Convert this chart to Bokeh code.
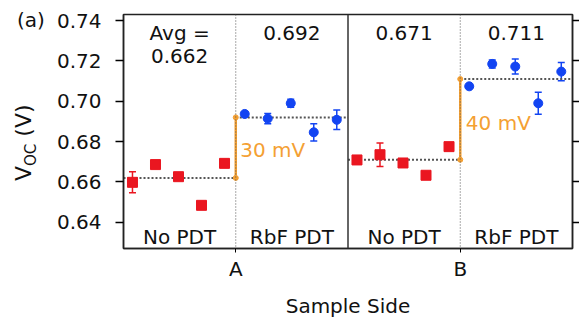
from bokeh.plotting import figure
from bokeh.layouts import row
from bokeh.models import (Range1d, LinearAxis, FixedTicker, Whisker, ColumnDataSource,
                          Span, NumeralTickFormatter, TeeHead, Div)
from bokeh.core.properties import value
from bokeh.embed import file_html
from bokeh.resources import INLINE

# ---------------- data ----------------
sides = ["A", "B"]
side_ticks = [1, 3]
treatments = ["No PDT", "RbF PDT", "No PDT", "RbF PDT"]
sample_offsets = [0.08, 0.285, 0.49, 0.695, 0.9]

voc_A_no = [0.6598, 0.6686, 0.6626, 0.6484, 0.6692]
err_A_no = [0.0052, 0.0008, 0.0008, 0.0008, 0.0008]
voc_A_rbf = [0.6937, 0.6914, 0.6990, 0.6846, 0.6908]
err_A_rbf = [0.0010, 0.0025, 0.0020, 0.0043, 0.0048]
voc_B_no = [0.6709, 0.6735, 0.6694, 0.6633, 0.6775]
err_B_no = [0.0010, 0.0058, 0.0010, 0.0010, 0.0010]
voc_B_rbf = [0.7074, 0.7185, 0.7172, 0.6990, 0.7147]
err_B_rbf = [0.0010, 0.0020, 0.0037, 0.0054, 0.0045]

avg_voc = [0.662, 0.692, 0.671, 0.711]
y_ticks = [0.64, 0.66, 0.68, 0.70, 0.72, 0.74]

RED = "#EA1620"
BLUE = "#1244F2"
ORANGE = "#F4A033"
FONT = "DejaVu Sans"

p = figure(width=526, height=320, output_backend="svg", toolbar_location=None,
           x_range=Range1d(0, 4), y_range=Range1d(0.627, 0.743),
           min_border_left=70, min_border_right=7, min_border_top=14, min_border_bottom=72,
           margin=0)
p.xgrid.visible = False
p.ygrid.visible = False
p.outline_line_color = "#222222"
p.outline_line_width = 1.5
p.background_fill_color = "white"
p.border_fill_color = "white"

# axes
ya = p.yaxis[0]
ya.ticker = FixedTicker(ticks=y_ticks)
ya.formatter = NumeralTickFormatter(format="0.00")
ya.major_tick_out = 8
ya.major_tick_in = 0
ya.minor_tick_line_color = None
ya.major_label_standoff = 14
ya.major_label_text_font = FONT
ya.major_label_text_font_size = "20px"
ya.major_label_text_color = "#111111"
ya.axis_line_color = "#222222"
ya.axis_line_width = 1.5
ya.major_tick_line_width = 1.5

ra = LinearAxis(ticker=FixedTicker(ticks=y_ticks))
ra.major_tick_out = 7
ra.major_tick_in = 0
ra.minor_tick_line_color = None
ra.major_label_text_font_size = "0px"
ra.major_label_standoff = 0
ra.axis_line_color = "#222222"
ra.axis_line_width = 1.5
ra.major_tick_line_width = 1.5
p.add_layout(ra, "right")

xa = p.xaxis[0]
xa.ticker = FixedTicker(ticks=side_ticks)
xa.major_label_overrides = {t: s for t, s in zip(side_ticks, sides)}
xa.major_tick_out = 4
xa.major_tick_in = 0
xa.minor_tick_line_color = None
xa.major_label_standoff = 4
xa.major_label_text_font = FONT
xa.major_label_text_font_size = "20px"
xa.major_label_text_color = "#111111"
xa.axis_line_color = "#222222"
xa.axis_line_width = 1.5
xa.axis_label = "Sample Side"
xa.axis_label_text_font = FONT
xa.axis_label_text_font_size = "20px"
xa.axis_label_text_font_style = "normal"
xa.axis_label_text_color = "#111111"
xa.axis_label_standoff = 10

# dividers
p.add_layout(Span(location=1, dimension="height", line_color="#555555", line_width=1, line_dash="1 2"))
p.add_layout(Span(location=3, dimension="height", line_color="#555555", line_width=1, line_dash="1 2"))
p.add_layout(Span(location=2, dimension="height", line_color="#333333", line_width=1.5))

# average dotted lines
p.segment(x0=[0, 1, 2, 3], x1=[1, 2, 3, 4], y0=avg_voc, y1=avg_voc,
          line_color="#555555", line_width=2, line_dash="2 2")

# orange difference bars
p.segment(x0=[1, 3], x1=[1, 3], y0=[avg_voc[0], avg_voc[2]], y1=[avg_voc[1], avg_voc[3]],
          line_color=ORANGE, line_width=2.5)
p.scatter(x=[1, 1, 3, 3], y=avg_voc, size=5, color=ORANGE)

# data points
groups = [(voc_A_no, err_A_no, RED, "square", 10),
          (voc_A_rbf, err_A_rbf, BLUE, "circle", 9),
          (voc_B_no, err_B_no, RED, "square", 10),
          (voc_B_rbf, err_B_rbf, BLUE, "circle", 9)]
for g, (vals, errs, col, mk, sz) in enumerate(groups):
    xs = [g + o for o in sample_offsets]
    src = ColumnDataSource(dict(x=xs, y=vals,
                                lo=[v - e for v, e in zip(vals, errs)],
                                hi=[v + e for v, e in zip(vals, errs)]))
    w = Whisker(base="x", lower="lo", upper="hi", source=src, line_color=col, line_width=1.5,
                upper_head=TeeHead(size=7, line_color=col, line_width=1.5),
                lower_head=TeeHead(size=7, line_color=col, line_width=1.5))
    p.add_layout(w)
    p.scatter(x="x", y="y", source=src, marker=mk, size=sz, color=col)

# header values
hdr = [f"{a:.3f}" for a in avg_voc]
p.text(x=[g + 0.5 for g in range(1, 4)], y=[0.734] * 3, text=hdr[1:],
       text_font=value(FONT), text_font_size="20px", text_align="center",
       text_baseline="middle", text_color="#111111")
p.text(x=[0.5, 0.5], y=[0.734, 0.7226], text=["Avg =", hdr[0]],
       text_font=value(FONT), text_font_size="20px", text_align="center",
       text_baseline="middle", text_color="#111111")

# treatment labels
p.text(x=[g + 0.5 for g in range(4)], y=[0.6325] * 4, text=treatments,
       text_font=value(FONT), text_font_size="20px", text_align="center",
       text_baseline="middle", text_color="#111111")

# mV labels
dv = [round((avg_voc[1] - avg_voc[0]) * 1000), round((avg_voc[3] - avg_voc[2]) * 1000)]
p.text(x=[1.04, 3.05], y=[(avg_voc[0] + avg_voc[1]) / 2 - 0.001, (avg_voc[2] + avg_voc[3]) / 2 - 0.002],
       text=[f"{d} mV" for d in dv],
       text_font=value(FONT), text_font_size="20px", text_align="left",
       text_baseline="middle", text_color=ORANGE)

# panel tag and y-axis label with subscript, in a narrow side panel
side_html = (
    "<div style=\"position:relative;width:53px;height:320px;font-family:'DejaVu Sans';color:#111111;\">"
    "<span style=\"position:absolute;left:17px;top:8px;font-size:20px;line-height:24px;white-space:nowrap;\">(a)</span>"
    "<span style=\"position:absolute;left:12px;top:181px;transform:rotate(-90deg);transform-origin:0 0;"
    "font-size:22px;line-height:24px;white-space:nowrap;\">V<sub style=\"font-size:15px;\">OC</sub> (V)</span>"
    "</div>"
)
side = Div(text=side_html, width=53, height=320, margin=0)

layout = row(side, p, spacing=0)
open("out.html", "w").write(file_html(layout, INLINE))
